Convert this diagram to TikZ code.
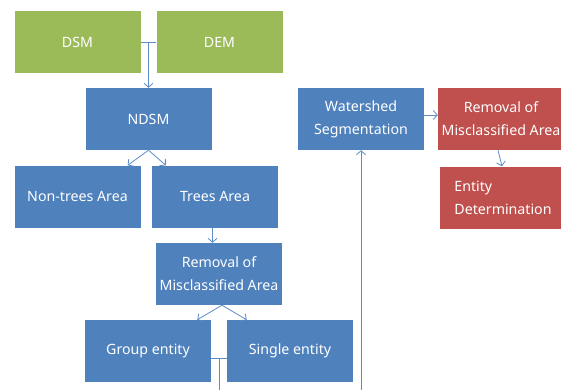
\documentclass[tikz,border=0pt]{standalone}
\usepackage{fontspec}
\setmainfont{Noto Sans}
\usetikzlibrary{positioning,shapes,fit,arrows,arrows.meta}
\definecolor{mygreen}{RGB}{155,187,89}
\definecolor{myblue}{RGB}{79,129,189}
\definecolor{myred}{RGB}{192,80,77}
\definecolor{mylink}{RGB}{92,140,200}

\begin{document}
\begin{tikzpicture}[x=1pt,y=-1pt,>={Straight Barb[length=4pt,width=9pt]},
  box/.style={rectangle,minimum width=126pt,minimum height=62pt,inner sep=0pt,
              text=white,font=\fontsize{14.2}{23}\selectfont,align=center},
  link/.style={mylink,line width=.8pt}]
\useasboundingbox (0,0) rectangle (561,390);

\node[box,fill=mygreen] (dsm) at (77.5,42)  {DSM};
\node[box,fill=mygreen] (dem) at (219.5,42) {DEM};

\node[box,fill=myblue] (ndsm)     at (148.5,119) {NDSM};
\node[box,fill=myblue] (nontrees) at (77.5,196.5) {Non-trees Area};
\node[box,fill=myblue] (trees)    at (215,196.5)  {Trees Area};
\node[box,fill=myblue] (removal)  at (219,274)    {Removal of\\Misclassified Area};
\node[box,fill=myblue] (group)    at (148,351)    {Group entity};
\node[box,fill=myblue] (single)   at (290,351)    {Single entity};
\node[box,fill=myblue] (watershed) at (361,119)   {Watershed\\Segmentation};

\node[box,fill=myred] (removalb) at (501,119)   {Removal of\\Misclassified Area};
\node[box,fill=myred,align=left] (entity) at (503,197.5) {Entity\\Determination};

\coordinate (join)  at (219,358);
\coordinate (down)  at (219,390);
\coordinate (up)    at (361,390);

% DSM + DEM
\draw[link] (dsm.east) -- (dem.west);
\draw[link,->] (dsm.east -| ndsm.north) -- (ndsm.north);

\draw[link,->] (ndsm.south) -- ([xshift=-13pt]nontrees.north east);
\draw[link,->] (ndsm.south) -- ([xshift=14pt]trees.north west);
\draw[link,->] ([xshift=-2.5pt]trees.south) -- ([xshift=-6.5pt]removal.north);

\draw[link,->] ([xshift=3pt]removal.south) -- ([xshift=-14pt]group.north east);
\draw[link,->] ([xshift=3pt]removal.south) -- ([xshift=20pt]single.north west);

% group + single
\draw[link] (group.east |- join) -- (single.west |- join);
\draw[link] (join) -- (down);
\draw[link,->] (up) -- (watershed.south);

\draw[link,->] ([yshift=4pt]watershed.east) -- ([yshift=4pt]removalb.west);
\draw[link,->] ([xshift=-3pt]removalb.south) -- ([xshift=-1pt]entity.north);

\end{tikzpicture}
\end{document}
